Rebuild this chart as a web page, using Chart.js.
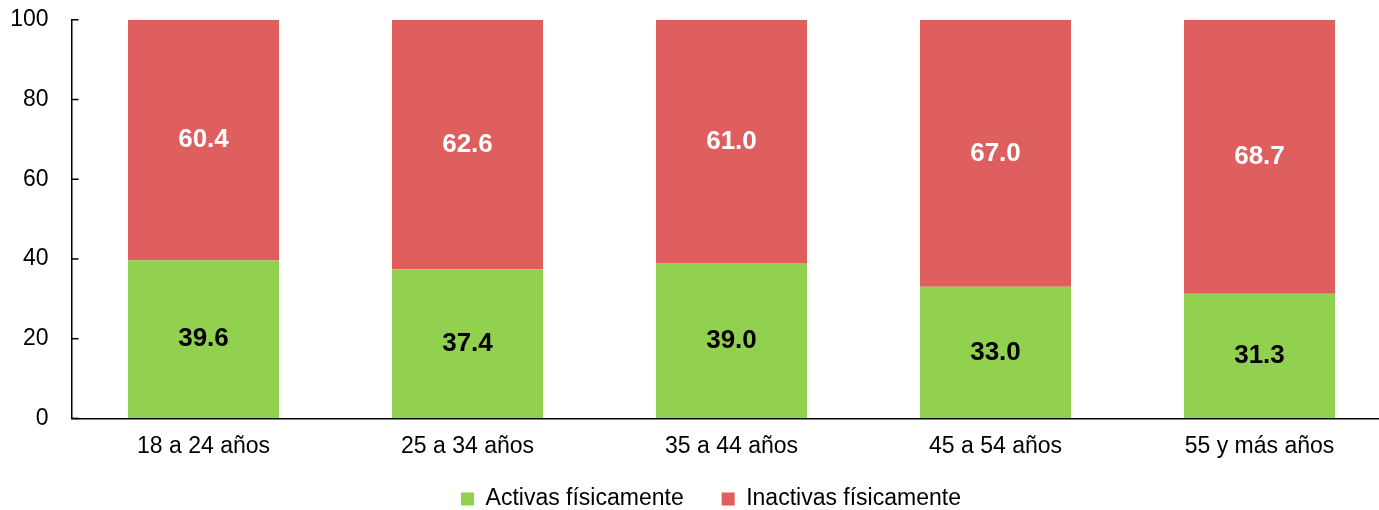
<!DOCTYPE html>
<html>
<head>
<meta charset="utf-8">
<script src="https://cdn.jsdelivr.net/npm/chart.js@4.4.1/dist/chart.umd.min.js"></script>
<style>
  html, body { margin: 0; padding: 0; background: #fff; overflow: hidden; }
  #wrap { width: 1422px; height: 562px; position: relative; margin-top: -17px; }
</style>
</head>
<body>
<div id="wrap"><canvas id="chart"></canvas></div>
<script>
const categories = ["18 a 24 años", "25 a 34 años", "35 a 44 años", "45 a 54 años", "55 y más años"];
const activas = [39.6, 37.4, 39.0, 33.0, 31.3];
const inactivas = [60.4, 62.6, 61.0, 67.0, 68.7];
const yTicks = [0, 20, 40, 60, 80, 100];

const FONT = "'Liberation Sans', Arial, sans-serif";

// value labels in the middle of each segment
const valueLabels = {
  id: "valueLabels",
  afterDatasetsDraw(chart) {
    const ctx = chart.ctx;
    ctx.save();
    ctx.font = "bold 26px " + FONT;
    ctx.textAlign = "center";
    ctx.textBaseline = "middle";
    chart.data.datasets.forEach((ds, i) => {
      chart.getDatasetMeta(i).data.forEach((bar, j) => {
        const mid = (bar.y + bar.base) / 2;
        ctx.fillStyle = i === 0 ? "#000" : "#fff";
        ctx.fillText(ds.data[j].toFixed(1), bar.x, mid);
      });
    });
    ctx.restore();
  }
};

// small tick marks pointing into the plot on the y axis
const innerTicks = {
  id: "innerTicks",
  afterDraw(chart) {
    const y = chart.scales.y;
    const ctx = chart.ctx;
    ctx.save();
    ctx.strokeStyle = "#000";
    ctx.lineWidth = 1.5;
    y.ticks.forEach(t => {
      const py = y.getPixelForValue(t.value);
      ctx.beginPath();
      ctx.moveTo(y.right, py);
      ctx.lineTo(y.right + 7, py);
      ctx.stroke();
    });
    ctx.restore();
  }
};

// pull the legend up closer to the axis labels
const legendShift = {
  id: "legendShift",
  afterLayout(chart) {
    const lg = chart.legend;
    lg.top -= 24.5;
    lg.bottom -= 24.5;
  }
};

new Chart(document.getElementById("chart"), {
  type: "bar",
  data: {
    labels: categories,
    datasets: [
      { label: "Activas físicamente", data: activas, backgroundColor: "#92D050", barPercentage: 0.572, categoryPercentage: 1 },
      { label: "Inactivas físicamente", data: inactivas, backgroundColor: "#DF5F5F", barPercentage: 0.572, categoryPercentage: 1 }
    ]
  },
  options: {
    responsive: true,
    maintainAspectRatio: false,
    animation: false,
    layout: { padding: { top: 8, right: 0, left: 0, bottom: 0 } },
    plugins: {
      tooltip: { enabled: false },
      legend: {
        position: "bottom",
        labels: {
          font: { family: FONT, size: 23 },
          color: "#000",
          boxWidth: 13,
          boxHeight: 13,
          padding: 38
        }
      }
    },
    scales: {
      x: {
        stacked: true,
        grid: { drawOnChartArea: false, drawTicks: false },
        border: { display: true, color: "#000", width: 1.5 },
        ticks: { font: { family: FONT, size: 23 }, color: "#000", padding: 14 }
      },
      y: {
        stacked: true,
        min: 0,
        max: 100,
        afterFit(scale) { scale.width = 71.5; },
        afterBuildTicks(scale) { scale.ticks = yTicks.map(v => ({ value: v })); },
        grid: { drawOnChartArea: false, drawTicks: false },
        border: { display: true, color: "#000", width: 1.5 },
        ticks: { font: { family: FONT, size: 23 }, color: "#000", padding: 23 }
      },
      yRight: {
        position: "right",
        min: 0,
        max: 100,
        afterFit(scale) { scale.width = 30.5; },
        grid: { display: false },
        border: { display: false },
        ticks: { display: false }
      }
    }
  },
  plugins: [valueLabels, innerTicks, legendShift]
});
</script>
</body>
</html>
